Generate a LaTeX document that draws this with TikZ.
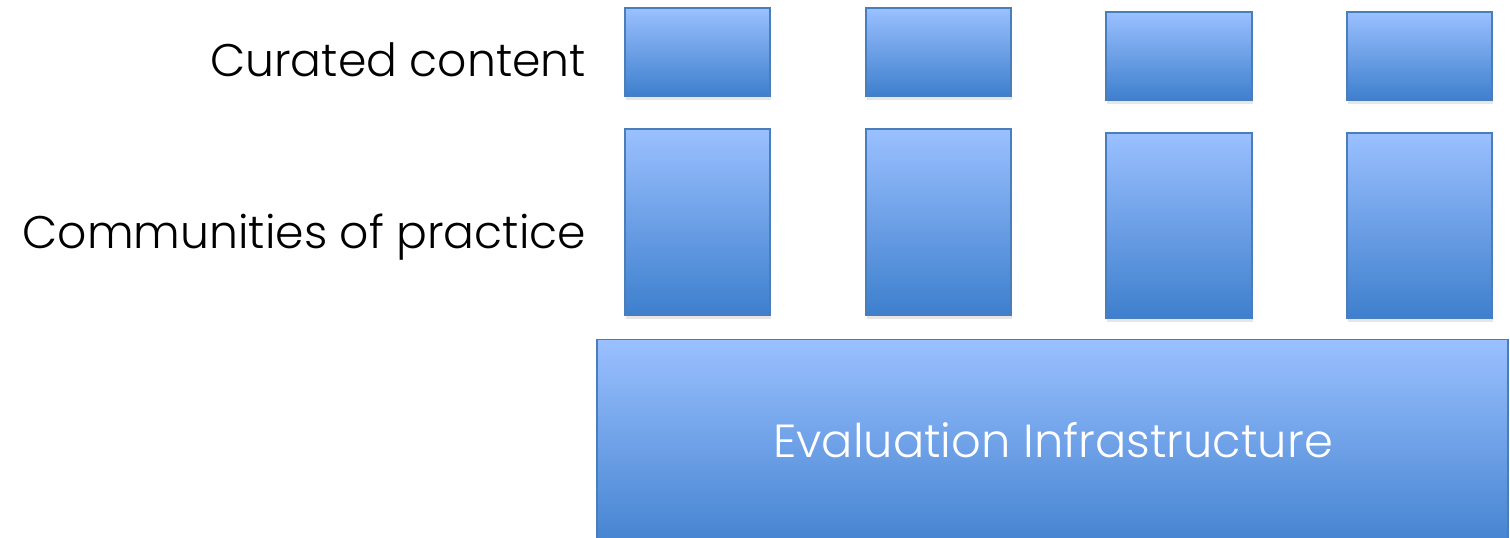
\documentclass[tikz,border=0pt]{standalone}
\usepackage{fontspec}
\IfFontExistsTF{Poppins Light}{\setmainfont{Poppins Light}}{\setmainfont{Poppins}}
\usetikzlibrary{shadows}
\definecolor{boxtop}{HTML}{9AC0FF}
\definecolor{boxbot}{HTML}{3E7FCD}
\definecolor{boxline}{HTML}{4A7EBB}
\begin{document}
\begin{tikzpicture}[semithick,
    box/.style={draw=boxline, thin, top color=boxtop, bottom color=boxbot,
                drop shadow={opacity=0.2, shadow xshift=0.01, shadow yshift=-0.04},
                inner sep=0pt},
    rowlabel/.style={anchor=east, inner sep=0pt, font=\fontsize{13}{16}\selectfont}]
\useasboundingbox (0,0) rectangle (15.1,5.37);

\node[rowlabel] (curated) at (5.87,4.77) {Curated content};
\node[rowlabel] (communities) at (5.87,3.0) {Communities of practice};

\node[box, minimum width=1.45cm, minimum height=0.88cm] (C1) at (6.975,4.85) {};
\node[box, minimum width=1.45cm, minimum height=0.88cm] (C2) at (9.385,4.85) {};
\node[box, minimum width=1.46cm, minimum height=0.88cm] (C3) at (11.79,4.81) {};
\node[box, minimum width=1.45cm, minimum height=0.88cm] (C4) at (14.195,4.81) {};

\node[box, minimum width=1.45cm, minimum height=1.86cm] (P1) at (6.975,3.15) {};
\node[box, minimum width=1.45cm, minimum height=1.86cm] (P2) at (9.385,3.15) {};
\node[box, minimum width=1.46cm, minimum height=1.85cm] (P3) at (11.79,3.115) {};
\node[box, minimum width=1.45cm, minimum height=1.85cm] (P4) at (14.195,3.115) {};

\node[box, minimum width=9.11cm, minimum height=2.2cm, anchor=north] (E) at (10.525,1.98) {};
\node[text=white, font=\fontsize{13.2}{16}\selectfont] (Etext) at (10.53,0.97) {Evaluation Infrastructure};

\end{tikzpicture}
\end{document}
